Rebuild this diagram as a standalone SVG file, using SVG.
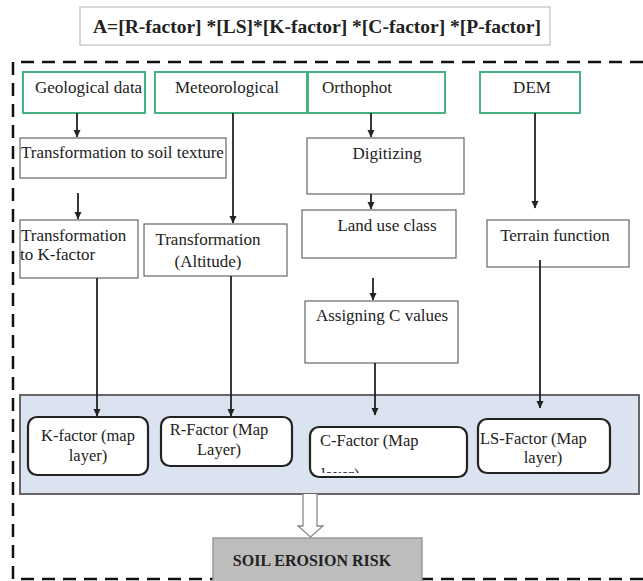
<svg xmlns="http://www.w3.org/2000/svg" width="643" height="581" viewBox="0 0 643 581" font-family="'Liberation Serif', 'Times New Roman', 'DejaVu Serif', serif">
<style>
text{font-family:"Liberation Serif","Times New Roman","DejaVu Serif",serif;fill:#222;}
.t{font-size:17px;}
.m{font-size:16.5px;}
.b{font-weight:bold;}
.src{fill:#fff;stroke:#46b282;stroke-width:2;}
.proc{fill:#fff;stroke:#666;stroke-width:1.2;}
.layer{fill:#fff;stroke:#222;stroke-width:2.2;}
.c{stroke:#222;stroke-width:1.8;fill:none;}
</style>
<defs>
<marker id="ah" markerWidth="8" markerHeight="8" refX="7" refY="4" orient="auto" markerUnits="userSpaceOnUse">
<path d="M0,0.5 L7.5,4 L0,7.5 Z" fill="#222"/>
</marker>
<clipPath id="cclip"><rect x="311" y="428" width="155" height="45"/></clipPath>
</defs>
<rect width="643" height="581" fill="#fff"/>
<g id="formula">
<rect x="80" y="7" width="470" height="38" fill="#fff" stroke="#ccc" stroke-width="1.5"/>
<text x="317" y="33" text-anchor="middle" class="b" style="font-size:19.5px">A=[R-factor] *[LS]*[K-factor] *[C-factor] *[P-factor]</text>
</g>
<g id="frame">
<path d="M643,62 H13 V579 H643" fill="none" stroke="#111" stroke-width="2.5" stroke-dasharray="13,8"/>
</g>
<g id="panel">
<rect x="20" y="395" width="619" height="99" fill="#dce3f0" stroke="#666" stroke-width="2"/>
</g>
<g id="geological">
<rect class="src" x="23" y="72" width="122" height="41"/>
<text class="t" x="35" y="93">Geological data</text>
</g>
<g id="meteorological">
<rect class="src" x="155" y="72" width="152" height="41"/>
<text class="t" x="175" y="93">Meteorological</text>
</g>
<g id="orthophot">
<rect class="src" x="308" y="72" width="137" height="41"/>
<text class="t" x="322" y="93">Orthophot</text>
</g>
<g id="dem">
<rect class="src" x="480" y="72" width="100" height="41"/>
<text class="t" x="532" y="93" text-anchor="middle">DEM</text>
</g>
<g id="soiltexture">
<rect class="proc" x="20" y="138" width="206" height="40"/>
<text class="t" x="21" y="158">Transformation to soil texture</text>
</g>
<g id="kfactortrans">
<rect class="proc" x="20" y="220" width="118" height="58"/>
<text class="t" x="21" y="241">Transformation</text>
<text class="t" x="20" y="260">to K-factor</text>
</g>
<g id="altitude">
<rect class="proc" x="144" y="224" width="143" height="52"/>
<text class="t" x="208" y="245" text-anchor="middle">Transformation</text>
<text class="t" x="208" y="267" text-anchor="middle">(Altitude)</text>
</g>
<g id="digitizing">
<rect class="proc" x="307" y="138" width="157" height="56"/>
<text class="t" x="387" y="159" text-anchor="middle">Digitizing</text>
</g>
<g id="landuse">
<rect class="proc" x="302" y="210" width="154" height="48"/>
<text class="t" x="387" y="231" text-anchor="middle">Land use class</text>
</g>
<g id="assigning">
<rect class="proc" x="305" y="301" width="153" height="62"/>
<text class="t" x="382" y="321" text-anchor="middle">Assigning C values</text>
</g>
<g id="terrain">
<rect class="proc" x="487" y="220" width="142" height="47"/>
<text class="t" x="555" y="241" text-anchor="middle">Terrain function</text>
</g>
<g id="kfactor">
<rect class="layer" x="28" y="417" width="120" height="58" rx="9"/>
<text class="m" x="88" y="441" text-anchor="middle">K-factor (map</text>
<text class="m" x="88" y="461" text-anchor="middle">layer)</text>
</g>
<g id="rfactor">
<rect class="layer" x="161" y="417" width="131" height="49" rx="9"/>
<text class="m" x="219" y="435" text-anchor="middle">R-Factor (Map</text>
<text class="m" x="219" y="455" text-anchor="middle">Layer)</text>
</g>
<g id="cfactor">
<rect class="layer" x="310" y="427" width="157" height="50" rx="9"/>
<text class="m" x="320" y="446">C-Factor (Map</text>
<text class="m" x="321" y="480" clip-path="url(#cclip)">layer)</text>
</g>
<g id="lsfactor">
<rect class="layer" x="478" y="419" width="132" height="54" rx="9"/>
<text class="m" x="480" y="444">LS-Factor (Map</text>
<text class="m" x="543" y="463" text-anchor="middle">layer)</text>
</g>
<g id="soilerosion">
<rect x="213" y="538" width="209" height="44" fill="#bdbdbd" stroke="#999" stroke-width="1.5"/>
<text class="b" x="312" y="566" text-anchor="middle" style="font-size:16px">SOIL EROSION RISK</text>
</g>
<g id="connectors">
<line class="c" x1="77" y1="113" x2="77" y2="137" marker-end="url(#ah)"/>
<line class="c" x1="78" y1="193" x2="78" y2="219" marker-end="url(#ah)"/>
<line class="c" x1="233" y1="113" x2="233" y2="223" marker-end="url(#ah)"/>
<line class="c" x1="371" y1="113" x2="371" y2="137" marker-end="url(#ah)"/>
<line class="c" x1="371" y1="194" x2="371" y2="209" marker-end="url(#ah)"/>
<line class="c" x1="373" y1="278" x2="373" y2="300" marker-end="url(#ah)"/>
<line class="c" x1="535" y1="113" x2="535" y2="208" marker-end="url(#ah)"/>
<line class="c" x1="97" y1="278" x2="97" y2="416" marker-end="url(#ah)"/>
<line class="c" x1="231" y1="276" x2="231" y2="416" marker-end="url(#ah)"/>
<line class="c" x1="375" y1="363" x2="375" y2="415" marker-end="url(#ah)"/>
<line class="c" x1="540" y1="260" x2="540" y2="408" marker-end="url(#ah)"/>
<path d="M303,494 V526 H298 L310.5,537 L323,526 H317 V494" fill="#fff" stroke="#888" stroke-width="1.3"/>
</g>
</svg>
